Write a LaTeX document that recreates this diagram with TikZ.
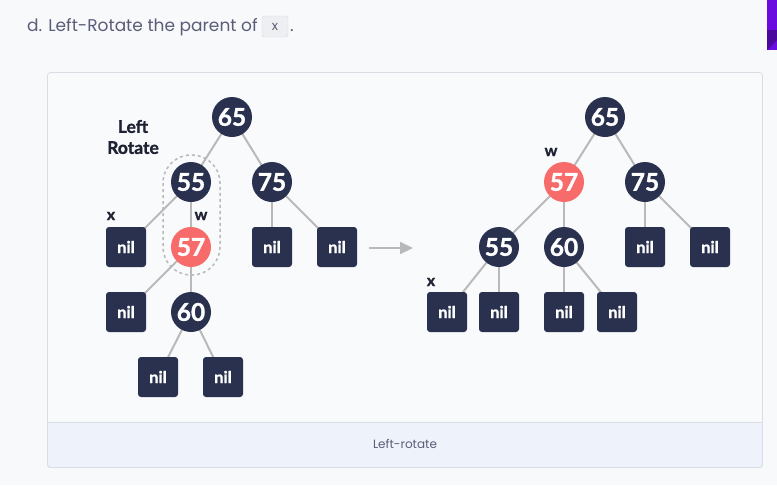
\documentclass[tikz,border=0pt]{standalone}
\usepackage{fontspec}
\setmainfont{Lato}
\newfontfamily\titlefont{Poppins}
\newfontfamily\heavyfont{Lato Bold}[FakeBold=1.2]
\usetikzlibrary{arrows.meta,backgrounds}
\definecolor{navy}{HTML}{29314F}
\definecolor{rbred}{HTML}{F76B6B}
\definecolor{edgegray}{HTML}{B9B9B9}
\definecolor{pagebg}{HTML}{F8F9FB}
\definecolor{panelbg}{HTML}{F9FAFC}
\definecolor{panelline}{HTML}{D9DDE4}
\definecolor{capbg}{HTML}{EEF3FB}
\definecolor{titlecol}{HTML}{5B5C78}
\definecolor{codebg}{HTML}{EEEFF2}
\definecolor{codeline}{HTML}{D8D9DE}
\definecolor{purplebar}{HTML}{6A0BE0}
\definecolor{labelcol}{HTML}{1E2233}
\tikzset{
  bnode/.style={circle,fill=navy,minimum size=40pt,inner sep=0pt,text=white,font=\heavyfont\fontsize{24.5}{24}\selectfont},
  rnode/.style={bnode,fill=rbred},
  nilbox/.style={rectangle,rounded corners=3pt,fill=navy,minimum width=40pt,minimum height=40pt,inner sep=0pt,text=white,font=\heavyfont\fontsize{16.5}{16}\selectfont},
  edge/.style={draw=edgegray,line width=2pt},
  lbl/.style={font=\heavyfont\fontsize{16}{16}\selectfont,text=labelcol,inner sep=0pt},
}
\begin{document}
\begin{tikzpicture}[x=1pt,y=-1pt]
\useasboundingbox (0,0) rectangle (777,485);
% nodes: left tree
\node[bnode] (L65) at (232,117) {65};
\node[bnode] (L55) at (191,182) {55};
\node[bnode] (L75) at (272,182) {75};
\node[nilbox] (Ln1) at (126,247) {nil};
\node[rnode] (L57) at (191,247) {57};
\node[nilbox] (Ln2) at (272,247) {nil};
\node[nilbox] (Ln3) at (337,247) {nil};
\node[nilbox] (Ln4) at (126,312) {nil};
\node[bnode] (L60) at (191,312) {60};
\node[nilbox] (Ln5) at (158,377) {nil};
\node[nilbox] (Ln6) at (223,377) {nil};
% nodes: right tree
\node[bnode] (R65) at (605,117) {65};
\node[rnode] (R57) at (564,182) {57};
\node[bnode] (R75) at (645,182) {75};
\node[bnode] (R55) at (499,247) {55};
\node[bnode] (R60) at (564,247) {60};
\node[nilbox] (Rn1) at (645,247) {nil};
\node[nilbox] (Rn2) at (710,247) {nil};
\node[nilbox] (Rn3) at (447,312) {nil};
\node[nilbox] (Rn4) at (499,312) {nil};
\node[nilbox] (Rn5) at (564,312) {nil};
\node[nilbox] (Rn6) at (617,312) {nil};
% labels
\node[font=\heavyfont\fontsize{17.5}{21}\selectfont,text=labelcol,align=center,inner sep=0pt] (lrot) at (133,137) {Left\\Rotate};
\node[lbl] (xl) at (111,216) {x};
\node[lbl] (wl) at (201,216) {w};
\node[lbl] (wr) at (551,152) {w};
\node[lbl] (xr) at (431,282) {x};
% title
\node[anchor=base west,inner sep=0pt,text=titlecol,font=\titlefont\fontsize{17}{17}\selectfont] (title) at (27,31) {d. Left-Rotate the parent of};
\node[draw=codeline,fill=codebg,rounded corners=2.5pt,minimum width=26pt,minimum height=21pt,inner sep=0pt,text=titlecol,font=\titlefont\fontsize{13}{13}\selectfont] (code) at (275,26.5) {x};
\node[anchor=base west,inner sep=0pt,text=titlecol,font=\titlefont\fontsize{17}{17}\selectfont] (dot) at (290,31) {.};
% caption
\node[text=titlecol,font=\titlefont\fontsize{12}{12}\selectfont] (cap) at (405,444) {Left-rotate};
% arrow
\coordinate (a1) at (369,248);
\coordinate (a2) at (413,248);
\draw[draw=edgegray,line width=2pt,-{Triangle[length=13pt,width=12pt]}] (a1) -- (a2);
\begin{scope}[on background layer]
  \fill[pagebg] (0,0) rectangle (777,485);
  \fill[purplebar] (767,0) -- (777,0) -- (777,50) -- (767,50) -- cycle;
  \fill[purplebar!70!black] (767,30) -- (777,30) -- (777,40) -- (767,50) -- cycle;
  \draw[panelline,fill=panelbg,rounded corners=3pt,line width=0.8pt] (47.5,72.5) rectangle (762.5,467.5);
  \fill[capbg,rounded corners=3pt] (48,422) rectangle (762,467);
  \fill[capbg] (48,422) rectangle (762,440);
  \draw[panelline,line width=0.8pt] (47.5,422) -- (762.5,422);
  \draw[panelline,rounded corners=3pt,line width=0.8pt] (47.5,422) -- (47.5,467.5) -- (762.5,467.5) -- (762.5,422);
  \draw[edgegray,dashed,dash pattern=on 3pt off 3pt,line width=1.5pt,rounded corners=28pt] (163,155) rectangle (220,275);
  \draw[edge] (L65.center) -- (L55.center);
  \draw[edge] (L65.center) -- (L75.center);
  \draw[edge] (L55.center) -- (Ln1.center);
  \draw[edge] (L55.center) -- (L57.center);
  \draw[edge] (L75.center) -- (Ln2.center);
  \draw[edge] (L75.center) -- (Ln3.center);
  \draw[edge] (L57.center) -- (Ln4.center);
  \draw[edge] (L57.center) -- (L60.center);
  \draw[edge] (L60.center) -- (Ln5.center);
  \draw[edge] (L60.center) -- (Ln6.center);
  \draw[edge] (R65.center) -- (R57.center);
  \draw[edge] (R65.center) -- (R75.center);
  \draw[edge] (R57.center) -- (R55.center);
  \draw[edge] (R57.center) -- (R60.center);
  \draw[edge] (R75.center) -- (Rn1.center);
  \draw[edge] (R75.center) -- (Rn2.center);
  \draw[edge] (R55.center) -- (Rn3.center);
  \draw[edge] (R55.center) -- (Rn4.center);
  \draw[edge] (R60.center) -- (Rn5.center);
  \draw[edge] (R60.center) -- (Rn6.center);
\end{scope}
\end{tikzpicture}
\end{document}
